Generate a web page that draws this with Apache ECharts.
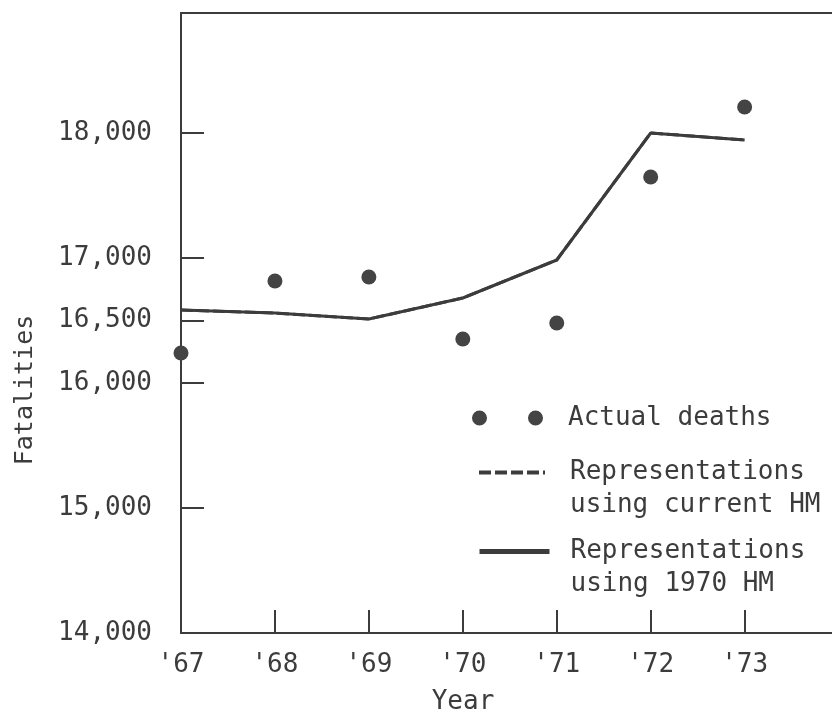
<!DOCTYPE html>
<html>
<head>
<meta charset="utf-8">
<script src="https://cdn.jsdelivr.net/npm/echarts@6/dist/echarts.min.js"></script>
<style>
  html, body { margin: 0; padding: 0; background: #fff; }
  #chart { width: 832px; height: 715px; }
</style>
</head>
<body>
<div id="chart"></div>
<script>
// 数据
const years = [1967, 1968, 1969, 1970, 1971, 1972, 1973]
const actualDeaths = [16240, 16816, 16848, 16352, 16480, 17648, 18208]
const currentHM = [16584, 16560, 16512, 16680, 16984, 18000, 17944]
const hm1970 = [16584, 16560, 16512, 16680, 16984, 18000, 17944]
const yTicks = [14000, 15000, 16000, 16500, 17000, 18000]
const xTicks = [1968, 1969, 1970, 1971, 1972, 1973]

const ink = '#3c3c3c'
const font = 'DejaVu Sans Mono'

const pairs = (vals) => years.map((y, i) => [y, vals[i]])

const myChart = echarts.init(document.getElementById('chart'))
const option = {
	animation: false,
	grid: { left: 181, right: 0, top: 13, bottom: 82 },
	xAxis: [
		{
			type: 'value',
			min: 1967,
			max: 1973.93,
			interval: 1,
			splitLine: { show: false },
			axisLine: { lineStyle: { color: ink, width: 2 } },
			axisTick: {
				inside: true,
				length: 23,
				customValues: xTicks,
				lineStyle: { color: ink, width: 2 }
			},
			axisLabel: {
				margin: 19,
				customValues: years,
				color: ink,
				fontFamily: font,
				fontSize: 26,
				formatter: (v) => "'" + String(v).slice(2)
			}
		},
		{
			type: 'value',
			position: 'top',
			min: 1967,
			max: 1973.93,
			splitLine: { show: false },
			axisLine: { show: true, lineStyle: { color: ink, width: 2 } },
			axisTick: { show: false },
			axisLabel: { show: false }
		}
	],
	yAxis: {
		type: 'value',
		min: 14000,
		max: 18960,
		interval: 500,
		splitLine: { show: false },
		axisLine: { show: true, lineStyle: { color: ink, width: 2 } },
		axisTick: {
			inside: true,
			length: 23,
			customValues: yTicks,
			lineStyle: { color: ink, width: 2 }
		},
		axisLabel: {
			margin: 29,
			customValues: yTicks,
			color: ink,
			fontFamily: font,
			fontSize: 26,
			formatter: (v) => v.toLocaleString('en-US')
		}
	},
	legend: [
		{
			orient: 'vertical',
			left: 467,
			top: 400,
			itemWidth: 71,
			itemHeight: 16,
			data: [{
				name: 'Actual deaths',
				icon: 'path://M0,7.5a7.5,7.5 0 1,0 15,0a7.5,7.5 0 1,0 -15,0M56,7.5a7.5,7.5 0 1,0 15,0a7.5,7.5 0 1,0 -15,0'
			}],
			textStyle: { color: ink, fontFamily: font, fontSize: 26, padding: [0, 0, 0, 20] }
		},
		{
			orient: 'vertical',
			left: 472,
			top: 418,
			itemWidth: 66,
			itemHeight: 14,
			data: ['Representations\nusing current HM'],
			formatter: (name) => '\n' + name,
			itemStyle: { color: 'transparent', borderWidth: 0 },
			lineStyle: { width: 4, type: [12, 4] },
			textStyle: { color: ink, fontFamily: font, fontSize: 26, lineHeight: 33, padding: [0, 0, 0, 20] }
		},
		{
			orient: 'vertical',
			left: 472,
			top: 497,
			itemWidth: 70,
			itemHeight: 14,
			data: ['Representations\nusing 1970 HM'],
			formatter: (name) => '\n' + name,
			itemStyle: { color: 'transparent', borderWidth: 0 },
			lineStyle: { width: 5 },
			textStyle: { color: ink, fontFamily: font, fontSize: 26, lineHeight: 33, padding: [0, 0, 0, 16] }
		}
	],
	graphic: [
		{
			type: 'text',
			x: 25,
			y: 390,
			rotation: Math.PI / 2,
			style: {
				text: 'Fatalities',
				fill: ink,
				font: '25px ' + font,
				align: 'center',
				verticalAlign: 'middle'
			}
		},
		{
			type: 'text',
			x: 463,
			y: 702,
			style: {
				text: 'Year',
				fill: ink,
				font: '26px ' + font,
				align: 'center',
				verticalAlign: 'middle'
			}
		}
	],
	series: [
		{
			name: 'Representations\nusing current HM',
			type: 'line',
			data: pairs(currentHM),
			symbol: 'none',
			lineStyle: { color: ink, width: 3, type: [12, 4] },
			itemStyle: { color: ink }
		},
		{
			name: 'Representations\nusing 1970 HM',
			type: 'line',
			data: pairs(hm1970),
			symbol: 'none',
			lineStyle: { color: ink, width: 3 },
			itemStyle: { color: ink }
		},
		{
			name: 'Actual deaths',
			type: 'scatter',
			data: pairs(actualDeaths),
			symbolSize: 15,
			clip: false,
			itemStyle: { color: '#444', opacity: 1 }
		}
	]
}

option && myChart.setOption(option)
</script>
</body>
</html>
